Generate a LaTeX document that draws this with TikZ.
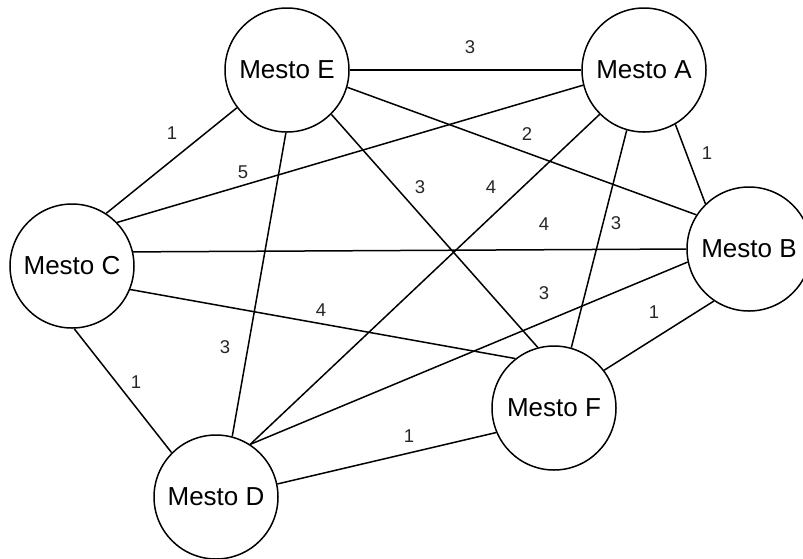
\documentclass[tikz,border=0pt]{standalone}
\usepackage{fontspec}
\setmainfont{Liberation Sans}
\begin{document}
\begin{tikzpicture}[x=1pt,y=-1pt,
  city/.style={circle,draw=black,line width=1.5pt,minimum size=124pt,inner sep=0pt,font=\fontsize{26}{30}\selectfont,fill=white},
  lbl/.style={font=\fontsize{18.5}{20}\selectfont,inner sep=0pt,text=black!85},
  edge/.style={line width=1.5pt}]
\useasboundingbox (0,0) rectangle (803,558);
\clip (0,0) rectangle (803,558);
\node[city] (E) at (287,70) {Mesto E};
\node[city] (A) at (644,70) {Mesto A};
\node[city] (B) at (749,249) {Mesto B};
\node[city] (C) at (72,266) {Mesto C};
\node[city] (F) at (554,408) {Mesto F};
\node[city] (D) at (216,497) {Mesto D};
\draw[edge] (E.east) -- (A.west) (470,47) node[lbl] {3};
\draw[edge] (E.217) -- (C.57) (172,133) node[lbl] {1};
\draw[edge] (A.194) -- (C.44) (243,172) node[lbl] {5};
\draw[edge] (E.344) -- (B.147) (527,134) node[lbl] {2};
\draw[edge] (A.300) -- (B.134) (707,153) node[lbl] {1};
\draw[edge] (E.315) -- (F.105) (420,187) node[lbl] {3};
\draw[edge] (A.225) -- (D.57) (491,187) node[lbl] {4};
\draw[edge] (C.13) -- (B.west) (544,224) node[lbl] {4};
\draw[edge] (A.254) -- (F.74) (616,223) node[lbl] {3};
\draw[edge] (E.269) -- (D.75) (225,347) node[lbl] {3};
\draw[edge] (C.338) -- (F.128) (321,310) node[lbl] {4};
\draw[edge] (B.192) -- (D.57) (544,293) node[lbl] {3};
\draw[edge] (B.236) -- (F.37) (654,312) node[lbl] {1};
\draw[edge] (C.272) -- (D.135) (136,382) node[lbl] {1};
\draw[edge] (D.12) -- (F.203) (409,436) node[lbl] {1};
\end{tikzpicture}
\end{document}
